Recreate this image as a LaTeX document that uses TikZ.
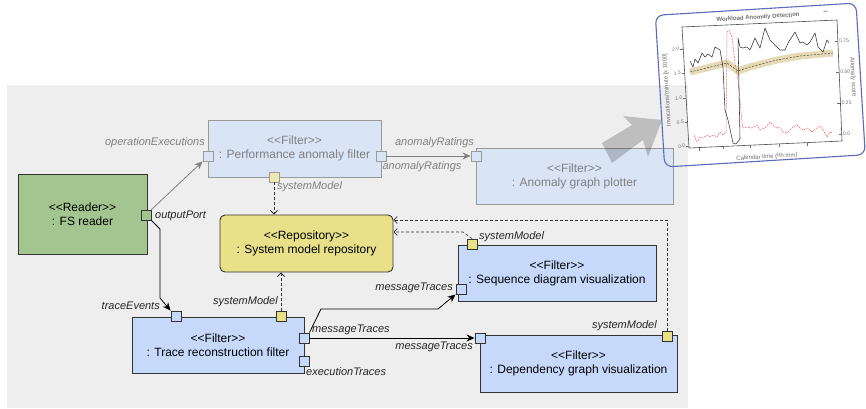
\documentclass[tikz,border=0pt]{standalone}
\usepackage{fontspec}
\setmainfont{Liberation Sans}[Ligatures=TeXOff]
\usetikzlibrary{arrows.meta,calc}

\definecolor{bgGray}{HTML}{EEEEEE}
\definecolor{filterBlue}{HTML}{C6D9FA}
\definecolor{fadedBlue}{HTML}{D9E4F4}
\definecolor{readerGreen}{HTML}{A3C690}
\definecolor{repoYellow}{HTML}{E8E18A}
\definecolor{fadedYellow}{HTML}{EDE7B0}
\definecolor{edgeDark}{HTML}{333333}
\definecolor{fadedEdge}{HTML}{9A9A9A}
\definecolor{fadedText}{HTML}{808080}
\definecolor{insetBlue}{HTML}{5A6CB8}
\definecolor{bandTan}{HTML}{E0D3A8}
\definecolor{plotRed}{HTML}{F06060}
\definecolor{plotText}{HTML}{707070}

\tikzset{
  box/.style={draw=edgeDark, line width=0.9pt, align=center, inner sep=0pt,
    font=\fontsize{12}{14}\selectfont, text=black},
  activefilter/.style={box, fill=filterBlue},
  fadedfilter/.style={box, draw=fadedEdge, fill=fadedBlue, text=fadedText},
  readerbox/.style={box, fill=readerGreen},
  repobox/.style={box, fill=repoYellow, rounded corners=5pt},
  port/.style={draw=edgeDark, line width=0.9pt, minimum size=10pt, inner sep=0pt, fill=filterBlue},
  fadedport/.style={port, draw=fadedEdge, fill=fadedBlue},
  lbl/.style={font=\fontsize{11}{13}\selectfont\itshape, inner sep=0pt, text=black!85},
  fadedlbl/.style={lbl, text=fadedText},
  flow/.style={draw=black, line width=0.8pt, -{Stealth[length=8pt,width=7pt]}},
  fadedflow/.style={draw=fadedText, line width=0.8pt, -{Stealth[length=8pt,width=7pt]}},
  uses/.style={draw=black!80, line width=0.8pt, dash pattern=on 3pt off 2pt,
    -{Straight Barb[length=3.5pt,width=7pt]}},
  tick/.style={draw=plotText, line width=0.5pt},
  ticklbl/.style={font=\fontsize{5}{6}\selectfont, text=plotText, inner sep=0pt, rotate=3.5},
}

\begin{document}
\begin{tikzpicture}[x=1pt,y=-1pt]
\useasboundingbox (0,0) rectangle (866,408);

% grey canvas behind the pipeline
\fill[bgGray] (7,85) rectangle (688,408);

% ---- components ----
\node[fadedfilter, minimum width=173pt, minimum height=57pt] (perf) at (294.5,148.5)
  {<<Filter>>\\: Performance anomaly filter};
\node[fadedfilter, minimum width=197pt, minimum height=56pt] (plotter) at (574.5,176)
  {<<Filter>>\\: Anomaly graph plotter};
\node[readerbox, minimum width=129pt, minimum height=80pt] (reader) at (82.5,214)
  {<<Reader>>\\: FS reader};
\node[repobox, minimum width=173pt, minimum height=57pt] (repo) at (306.5,243.5)
  {<<Repository>>\\: System model repository};
\node[activefilter, minimum width=172pt, minimum height=56pt] (trace) at (218,345)
  {<<Filter>>\\: Trace reconstruction filter};
\node[activefilter, minimum width=198pt, minimum height=56pt] (seq) at (557,273)
  {<<Filter>>\\: Sequence diagram visualization};
\node[activefilter, minimum width=197pt, minimum height=57pt] (dep) at (578.5,363.5)
  {<<Filter>>\\: Dependency graph visualization};

% ---- ports ----
\node[fadedport] (pOpExec) at (208,156) {};
\node[fadedport] (pPerfOut) at (381,156) {};
\node[fadedport, fill=fadedYellow] (pPerfSm) at (274,177) {};
\node[fadedport] (pPlotIn) at (476,156) {};
\node[port, fill=readerGreen] (pOut) at (146,215) {};
\node[port] (pTe) at (176,316) {};
\node[port, fill=repoYellow] (pTrSm) at (281,316) {};
\node[port] (pMt) at (304,338) {};
\node[port] (pEt) at (304,361) {};
\node[port, fill=repoYellow] (pSeqSm) at (472,244) {};
\node[port] (pSeqMt) at (461,289) {};
\node[port] (pDepMt) at (480,338) {};
\node[port, fill=repoYellow] (pDepSm) at (667,336) {};

% ---- bend points ----
\coordinate (rd1) at (160,229);
\coordinate (rd2) at (160,298);
\coordinate (mt1) at (321,309);
\coordinate (mt2) at (438,309);
\coordinate (sq1) at (463,232);
\coordinate (dp1) at (667,220);

% ---- connectors ----
\draw[fadedflow] (pOut.north east) -- (pOpExec.south west);
\draw[fadedflow] (pPerfOut.east) -- (pPlotIn.west);
\draw[flow] (pOut.south east) -- (rd1) -- (rd2) -- (pTe.north west);
\draw[flow] (pMt.east) -- (pDepMt.west);
\draw[flow] (pMt.north east) -- (mt1) -- (mt2) -- (pSeqMt.south west);
\draw[uses] (pPerfSm.south) -- (pPerfSm |- repo.north);
\draw[uses] (pTrSm.north) -- (pTrSm |- repo.south);
\draw[uses, line width=0.6pt] (pSeqSm.north) -- (sq1) -- (sq1 -| repo.east);
\draw[uses, line width=0.6pt] (pDepSm.north) -- (dp1) -- (dp1 -| repo.east);

% ---- port labels ----
\node[fadedlbl, anchor=east] (lOpExec) at (205,143) {operationExecutions};
\node[lbl, anchor=west] (lOut) at (155,216) {outputPort};
\node[fadedlbl, anchor=west] (lPerfSm) at (277,187) {systemModel};
\node[fadedlbl] (lAr1) at (434.5,143) {anomalyRatings};
\node[fadedlbl] (lAr2) at (422,167) {anomalyRatings};
\node[lbl, anchor=east] (lTe) at (160,306) {traceEvents};
\node[lbl, anchor=east] (lTrSm) at (278,302) {systemModel};
\node[lbl, anchor=west] (lMt) at (312,330) {messageTraces};
\node[lbl, anchor=west] (lEt) at (306,372) {executionTraces};
\node[lbl, anchor=east] (lDepMt) at (473,347) {messageTraces};
\node[lbl, anchor=east] (lSeqMt) at (453,288) {messageTraces};
\node[lbl, anchor=west] (lSeqSm) at (479,237) {systemModel};
\node[lbl, anchor=east] (lDepSm) at (657,326) {systemModel};

% ---- big arrow towards the chart ----
\fill[black, opacity=0.2] (602,143) -- (632,125) -- (623,116) -- (662,120)
  -- (648,157) -- (643,140) -- (612,163) -- cycle;

% ---- chart: Workload Anomaly Detection ----
\begin{scope}[rotate around={3.5:(761,88)}]
  \draw[insetBlue, line width=1.1pt, rounded corners=8pt] (660,9) rectangle (861,161);
\end{scope}

% confidence band with forecast
\draw[bandTan, line width=7pt, opacity=0.85, line join=round]
  (690,72) -- (727,63) -- (738,71) -- (750,67) -- (777,60) -- (800,56) -- (833,53);
\draw[black!75, line width=0.5pt, dash pattern=on 2pt off 1.5pt]
  (690,72) -- (727,63) -- (738,71) -- (750,67) -- (777,60) -- (800,56) -- (833,53);

% anomaly score
\draw[plotRed, line width=0.5pt, dash pattern=on 2pt off 1pt]
  (694,135) -- (697,142) -- (700,137) -- (703,138) -- (707,135) -- (710,137)
  -- (713,135) -- (717,137) -- (720,132) -- (723,135) -- (726,132) -- (727,32)
  -- (729,30) -- (732,37) -- (735,63) -- (738,80) -- (742,122) -- (743,128)
  -- (747,127) -- (752,128) -- (757,125) -- (760,130) -- (765,128) -- (770,122)
  -- (775,127) -- (780,128) -- (783,132) -- (787,133) -- (792,128) -- (797,125)
  -- (800,128) -- (803,130) -- (808,128) -- (812,132) -- (817,128) -- (820,126)
  -- (823,130) -- (827,137) -- (830,132) -- (833,133);

% measured invocations
\draw[black!80, line width=0.55pt, line join=round]
  (690,61) -- (693,67) -- (695,59) -- (698,63) -- (702,53) -- (705,57) -- (708,54)
  -- (712,57) -- (715,47) -- (720,50) -- (723,67) -- (725,110) -- (728,120)
  -- (733,143) -- (736,144) -- (740,139) -- (738,38) -- (740,47) -- (743,48)
  -- (747,47) -- (750,50) -- (755,38) -- (760,48) -- (765,28) -- (770,40)
  -- (773,43) -- (780,50) -- (785,50) -- (788,43) -- (795,32) -- (800,43)
  -- (803,42) -- (807,45) -- (810,42) -- (815,33) -- (818,47) -- (823,52)
  -- (827,40) -- (829,43);

% plot frame
\draw[black!70, line width=0.6pt] (682,27) -- (837,20) -- (842,141) -- (689,148) -- cycle;

% left axis ticks
\draw[tick] (680.3,49) -- (683.3,49);
\draw[tick] (681.7,73) -- (684.7,73);
\draw[tick] (683.1,98) -- (686.1,98);
\draw[tick] (684.5,122) -- (687.5,122);
\draw[tick] (685.9,146) -- (688.9,146);
\node[ticklbl, anchor=east] (yl20) at (679.5,49) {2.0};
\node[ticklbl, anchor=east] (yl15) at (681,73) {1.5};
\node[ticklbl, anchor=east] (yl10) at (682.5,98) {1.0};
\node[ticklbl, anchor=east] (yl05) at (684,122) {0.5};
\node[ticklbl, anchor=east] (yl00) at (685.3,146) {0.0};

% right axis ticks
\draw[tick] (834.9,41) -- (837.9,41);
\draw[tick] (836.1,72) -- (839.1,72);
\draw[tick] (837.4,103) -- (840.4,103);
\draw[tick] (838.7,134) -- (841.7,134);
\node[ticklbl, anchor=west] (yr75) at (839,41) {0.75};
\node[ticklbl, anchor=west] (yr50) at (840.2,72) {0.50};
\node[ticklbl, anchor=west] (yr25) at (841.5,103) {0.25};
\node[ticklbl, anchor=west] (yr00) at (842.8,134) {0.0};

% time axis ticks
\draw[tick] (699,147.5) -- (699,150.5);
\draw[tick] (723,146.4) -- (723,149.4);
\draw[tick] (750,145.2) -- (750,148.2);
\draw[tick] (779,143.9) -- (779,146.9);
\draw[tick] (807,142.6) -- (807,145.6);

% chart texts
\node[font=\fontsize{6}{7}\selectfont\bfseries, text=plotText, rotate=3.5, inner sep=0pt]
  (ctitle) at (758,17.5) {Workload Anomaly Detection};
\draw[black!80, line width=0.5pt] (823.5,11.3) -- (827.5,11);
\node[font=\fontsize{6}{7}\selectfont, text=plotText, rotate=93.5, inner sep=0pt]
  (cyl) at (667,90) {Invocations/minute [x 1000]};
\node[font=\fontsize{6}{7}\selectfont, text=plotText, rotate=-86.5, inner sep=0pt]
  (cyr) at (853,77) {Anomaly score};
\node[font=\fontsize{6}{7}\selectfont, text=plotText, rotate=3.5, inner sep=0pt]
  (cxl) at (767,157) {Calendar time (hh:mm)};
\end{tikzpicture}
\end{document}
